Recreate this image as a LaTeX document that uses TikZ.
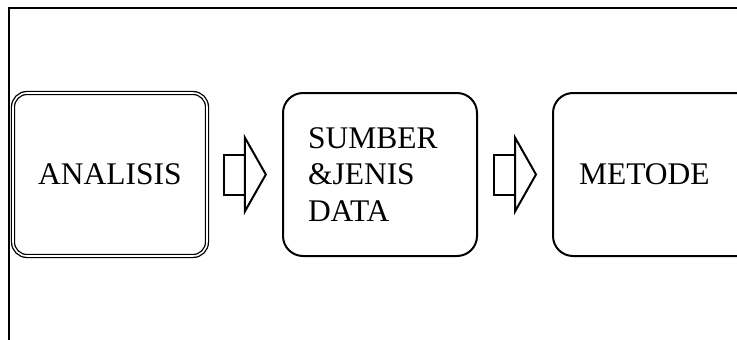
\documentclass[tikz,border=0pt]{standalone}
\usepackage{fontspec}
\setmainfont{Liberation Serif}
\usetikzlibrary{positioning,calc}

\tikzset{
  stage/.style={draw, line width=2pt, rounded corners=20pt, minimum width=194pt,
    minimum height=163pt, inner sep=0pt, font=\fontsize{31.5}{36.5}\selectfont},
  stagedouble/.style={stage, line width=1.3pt, double, double distance=1.6pt, rounded corners=14pt}
}
\newcommand{\blockarrow}[2]{%
  \coordinate (m) at ($(#1.east)!0.5!(#2.west)$);
  \draw[line width=2pt] ($(m)+(-21,-20)$) rectangle ($(m)+(0,20)$);
  \draw[line width=2pt, line join=miter] ($(m)+(0,-37)$) -- ($(m)+(21,0)$) -- ($(m)+(0,37)$) -- cycle;}

\begin{document}
\begin{tikzpicture}[x=1pt, y=-1pt]
\path[use as bounding box, clip] (0,0) rectangle (737,340);
\fill[white] (0,0) rectangle (737,340);
\draw[line width=1.8pt] (9,8) rectangle (760,341);
\node[stagedouble] (analisis) at (110,174.5) {ANALISIS};
\node[stage, align=left, text width=144pt] (sumber) at (380,174.5) {SUMBER\\\&JENIS\\DATA};
\node[stage, align=left, text width=152pt, minimum width=204pt] (metode) at (655,174.5) {METODE};
\blockarrow{analisis}{sumber}
\blockarrow{sumber}{metode}
\end{tikzpicture}
\end{document}
